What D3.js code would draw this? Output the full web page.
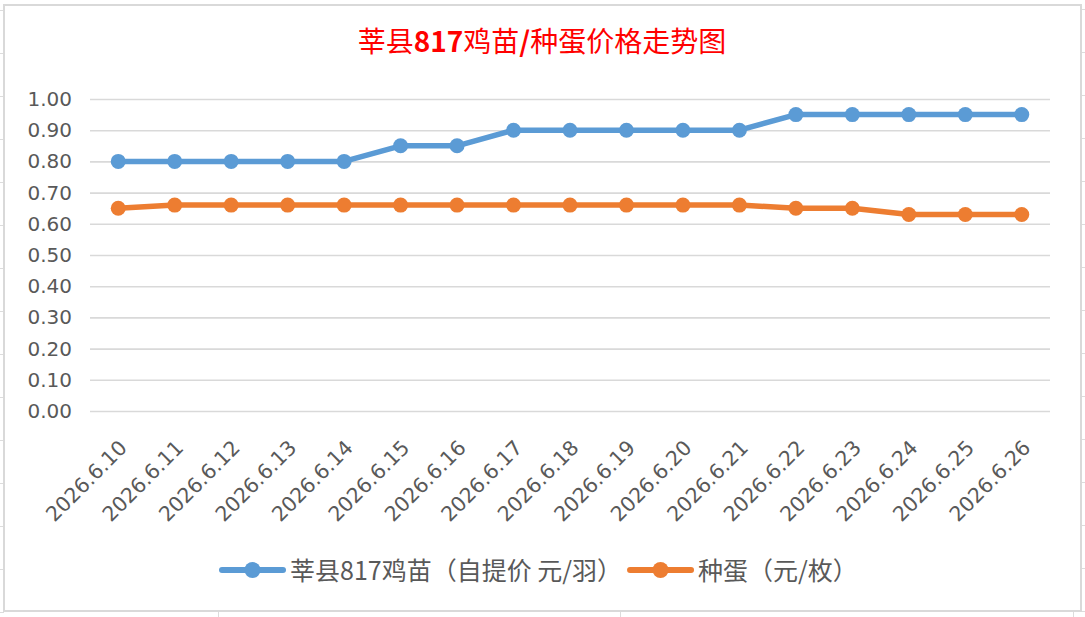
<!DOCTYPE html>
<html>
<head>
<meta charset="utf-8">
<script src="https://cdn.jsdelivr.net/npm/d3@7/dist/d3.min.js"></script>
<style>
  html, body { margin: 0; padding: 0; background: #ffffff; }
  svg { display: block; }
</style>
</head>
<body>
<svg id="chart" width="1085" height="617"></svg>
<script>
// ---- data ----
const categories = ['2026.6.10','2026.6.11','2026.6.12','2026.6.13','2026.6.14','2026.6.15','2026.6.16','2026.6.17','2026.6.18','2026.6.19','2026.6.20','2026.6.21','2026.6.22','2026.6.23','2026.6.24','2026.6.25','2026.6.26'];
const chickPrices = [0.80,0.80,0.80,0.80,0.80,0.85,0.85,0.90,0.90,0.90,0.90,0.90,0.95,0.95,0.95,0.95,0.95];
const eggPrices   = [0.65,0.66,0.66,0.66,0.66,0.66,0.66,0.66,0.66,0.66,0.66,0.66,0.65,0.65,0.63,0.63,0.63];
const yTicks = [0,0.1,0.2,0.3,0.4,0.5,0.6,0.7,0.8,0.9,1.0];
const seriesNames = ['莘县817鸡苗（自提价 元/羽）','种蛋（元/枚）'];
const titleParts = [['莘县',false],['817',true],['鸡苗',false],['/',true],['种蛋价格走势图',false]];

const colors = ['#5B9BD5','#ED7D31'];
const textColor = '#595959';
const gridColor = '#d9d9d9';

const svg = d3.select('#chart');
svg.append('rect').attr('width',1085).attr('height',617).attr('fill','#ffffff');

// faint spreadsheet cells outside the chart frame
const cell = svg.append('g').attr('stroke','#dcdcdc').attr('stroke-width',1);
d3.range(10, 617, 43).forEach(yy => {
  cell.append('line').attr('x1',0).attr('x2',4).attr('y1',yy+0.5).attr('y2',yy+0.5);
  cell.append('line').attr('x1',1081).attr('x2',1085).attr('y1',yy-1+0.5).attr('y2',yy-1+0.5);
});
[218, 620, 1073].forEach(xx => {
  cell.append('line').attr('x1',xx+0.5).attr('x2',xx+0.5).attr('y1',611).attr('y2',617);
});

// chart frame
svg.append('rect').attr('x',4).attr('y',5).attr('width',1077).attr('height',606)
  .attr('fill','#ffffff').attr('stroke',gridColor).attr('stroke-width',2);

// ---- scales ----
const plotL = 90, plotR = 1050, plotT = 99, plotB = 411;
const x = d3.scaleBand().domain(categories).range([plotL, plotR]);
const cx = c => x(c) + x.bandwidth()/2;
const y = d3.scaleLinear().domain([0,1]).range([plotB, plotT]);

// y axis + gridlines
const yAxis = svg.append('g').attr('transform',`translate(${plotL},0)`)
  .call(d3.axisLeft(y).tickValues(yTicks).tickSize(-(plotR-plotL)).tickPadding(18).tickFormat(d3.format('.2f')));
yAxis.select('.domain').remove();
yAxis.selectAll('line').attr('stroke',gridColor).attr('stroke-width',1.6);
yAxis.selectAll('text').attr('fill',textColor)
  .style('font-family','"DejaVu Sans", sans-serif').style('font-size','20px');

// x axis labels
const xAxis = svg.append('g').attr('transform',`translate(0,${plotB})`)
  .call(d3.axisBottom(x).tickSize(0).tickPadding(0));
xAxis.select('.domain').remove();
xAxis.selectAll('text')
  .attr('fill',textColor)
  .attr('x',0).attr('y',0).attr('dy','0.35em')
  .attr('text-anchor','end')
  .attr('transform','translate(5,33) rotate(-45)')
  .style('font-family','"DejaVu Sans", sans-serif').style('font-size','20.5px');

// ---- series ----
const line = d3.line().x((d,i) => cx(categories[i])).y(d => y(d));
[chickPrices, eggPrices].forEach((vals, si) => {
  svg.append('path').datum(vals)
    .attr('d', line).attr('fill','none')
    .attr('stroke', colors[si]).attr('stroke-width',5.5)
    .attr('stroke-linejoin','round').attr('stroke-linecap','round');
  svg.append('g').selectAll('circle').data(vals).join('circle')
    .attr('cx',(d,i) => cx(categories[i])).attr('cy', d => y(d))
    .attr('r',7.5).attr('fill',colors[si]);
});

// ---- title ----
const title = svg.append('text').attr('x',542).attr('y',52).attr('text-anchor','middle')
  .attr('fill','#FF0000').style('font-family','"Noto Sans CJK SC", sans-serif').style('font-size','28px');
titleParts.forEach(([t,b]) => title.append('tspan').text(t).attr('font-weight', b ? 'bold' : 'normal'));

// ---- legend ----
let lx = 222;
const ly = 570;
seriesNames.forEach((name, si) => {
  const g = svg.append('g');
  g.append('line').attr('x1',lx).attr('x2',lx+61).attr('y1',ly).attr('y2',ly)
    .attr('stroke',colors[si]).attr('stroke-width',6).attr('stroke-linecap','round');
  g.append('circle').attr('cx',lx+30.5).attr('cy',ly).attr('r',8).attr('fill',colors[si]);
  const t = g.append('text').attr('x',lx+68).attr('y',ly+9.5).text(name)
    .attr('fill',textColor).style('font-family','"Noto Sans CJK SC", sans-serif').style('font-size','25px');
  lx = lx + 68 + t.node().getComputedTextLength() + 8;
});
</script>
</body>
</html>
